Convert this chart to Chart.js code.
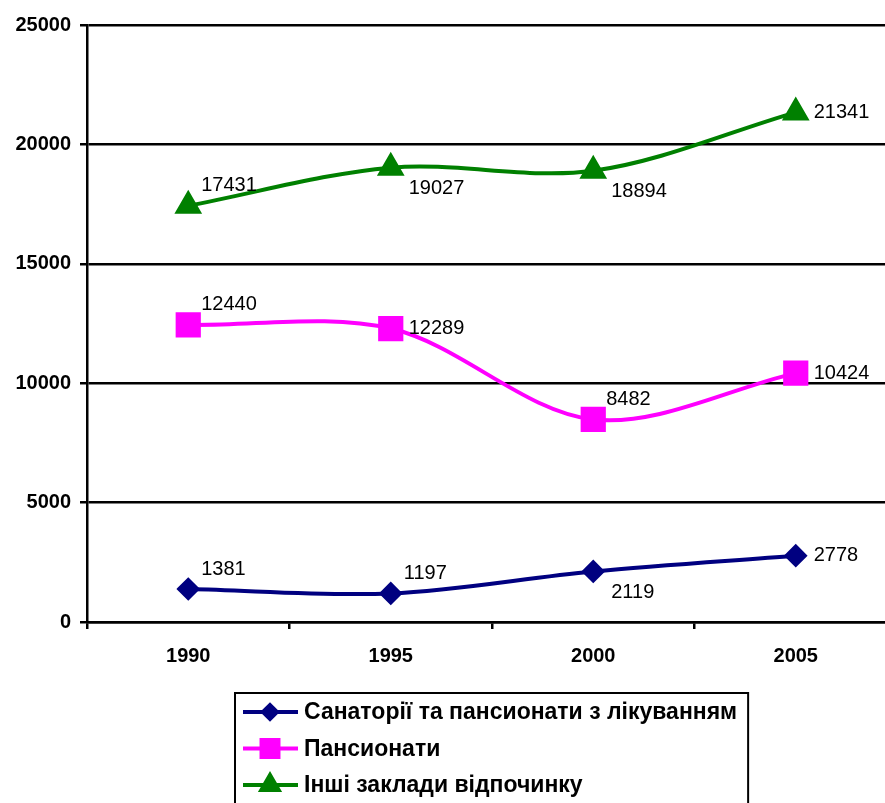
<!DOCTYPE html>
<html>
<head>
<meta charset="utf-8">
<script src="https://cdn.jsdelivr.net/npm/chart.js@4/dist/chart.umd.min.js"></script>
<style>
  html, body { margin: 0; padding: 0; background: #fff; overflow: hidden; }
  #wrap { width: 885px; height: 803px; overflow: hidden; }
  #chart { display: block; }
</style>
</head>
<body>
<div id="wrap"><canvas id="chart" width="897" height="803"></canvas></div>
<script>
const years = ['1990', '1995', '2000', '2005'];
const sanatorii = [1381, 1197, 2119, 2778];
const pansionaty = [12440, 12289, 8482, 10424];
const inshi = [17431, 19027, 18894, 21341];
const seriesNames = [
  'Санаторії та пансионати з лікуванням',
  'Пансионати',
  'Інші заклади відпочинку'
];

// where each value label sits relative to its point
const labelPlace = [
  ['up', 'up', 'down', 'mid'],
  ['up', 'mid', 'up', 'mid'],
  ['up', 'down', 'down', 'mid']
];

const FONT = 'Arial, "Liberation Sans", sans-serif';

const pointLabels = {
  id: 'pointLabels',
  afterDatasetsDraw(chart) {
    const ctx = chart.ctx;
    ctx.save();
    ctx.font = '20px ' + FONT;
    ctx.fillStyle = '#000';
    ctx.textBaseline = 'middle';
    ctx.textAlign = 'left';
    chart.data.datasets.forEach((ds, i) => {
      chart.getDatasetMeta(i).data.forEach((pt, j) => {
        const p = labelPlace[i][j];
        const dx = p === 'up' ? 13 : 18;
        const dy = p === 'up' ? -20 : p === 'down' ? 21 : 0;
        ctx.fillText(String(ds.data[j]), pt.x + dx, pt.y + dy);
      });
    });
    ctx.restore();
  }
};

const boxLegend = {
  id: 'boxLegend',
  afterDraw(chart) {
    const ctx = chart.ctx;
    const area = chart.chartArea;
    ctx.save();
    ctx.font = 'bold 23px ' + FONT;
    let maxW = 0;
    chart.data.datasets.forEach(ds => {
      maxW = Math.max(maxW, ctx.measureText(ds.label).width);
    });
    const boxW = maxW + 80;
    const left = Math.round((area.left + area.right) / 2 - boxW / 2);
    const top = 693;
    ctx.lineWidth = 2;
    ctx.strokeStyle = '#000';
    ctx.strokeRect(left, top, boxW, 140);

    chart.data.datasets.forEach((ds, i) => {
      const y = top + 19 + i * 36.5;
      ctx.strokeStyle = ds.borderColor;
      ctx.fillStyle = ds.borderColor;
      ctx.lineWidth = 4;
      ctx.beginPath();
      ctx.moveTo(left + 8, y);
      ctx.lineTo(left + 63, y);
      ctx.stroke();
      Chart.helpers.drawPoint(ctx, {
        pointStyle: ds.pointStyle,
        radius: ds.legendRadius,
        rotation: 0,
        borderWidth: 1
      }, left + 35, y);
      ctx.fillStyle = '#000';
      ctx.textBaseline = 'middle';
      ctx.textAlign = 'left';
      ctx.fillText(ds.label, left + 69, y + 1);
    });
    ctx.restore();
  }
};

new Chart(document.getElementById('chart'), {
  type: 'line',
  data: {
    labels: years,
    datasets: [
      {
        label: seriesNames[0],
        data: sanatorii,
        borderColor: '#000080',
        backgroundColor: '#000080',
        pointStyle: 'rectRot',
        pointRadius: 9,
        legendRadius: 7,
        borderWidth: 4,
        tension: 0.33
      },
      {
        label: seriesNames[1],
        data: pansionaty,
        borderColor: '#FF00FF',
        backgroundColor: '#FF00FF',
        pointStyle: 'rect',
        pointRadius: 15,
        legendRadius: 12,
        borderWidth: 4,
        tension: 0.33
      },
      {
        label: seriesNames[2],
        data: inshi,
        borderColor: '#008000',
        backgroundColor: '#008000',
        pointStyle: 'triangle',
        pointRadius: 12,
        legendRadius: 10,
        borderWidth: 4,
        tension: 0.33
      }
    ]
  },
  options: {
    responsive: false,
    animation: false,
    layout: { autoPadding: false, padding: { top: 25, bottom: 121, left: 0, right: 0 } },
    plugins: {
      legend: { display: false },
      tooltip: { enabled: false }
    },
    elements: { point: { borderWidth: 1 } },
    scales: {
      x: {
        offset: true,
        grid: { offset: true, drawOnChartArea: false, drawTicks: true, tickLength: 7, color: '#000', lineWidth: 2.5 },
        border: { color: '#000', width: 2.5 },
        ticks: { color: '#000', font: { family: FONT, size: 20, weight: 'bold' }, padding: 15 },
        afterFit: s => { s.height = 60; }
      },
      y: {
        min: 0,
        max: 25000,
        ticks: {
          stepSize: 5000,
          color: '#000',
          font: { family: FONT, size: 20, weight: 'bold' },
          padding: 9,
          callback: v => String(v)
        },
        grid: { color: '#000', lineWidth: 2.5, tickLength: 7 },
        border: { color: '#000', width: 2.5 },
        afterFit: s => { s.width = 87; }
      }
    }
  },
  plugins: [pointLabels, boxLegend]
});
</script>
</body>
</html>
